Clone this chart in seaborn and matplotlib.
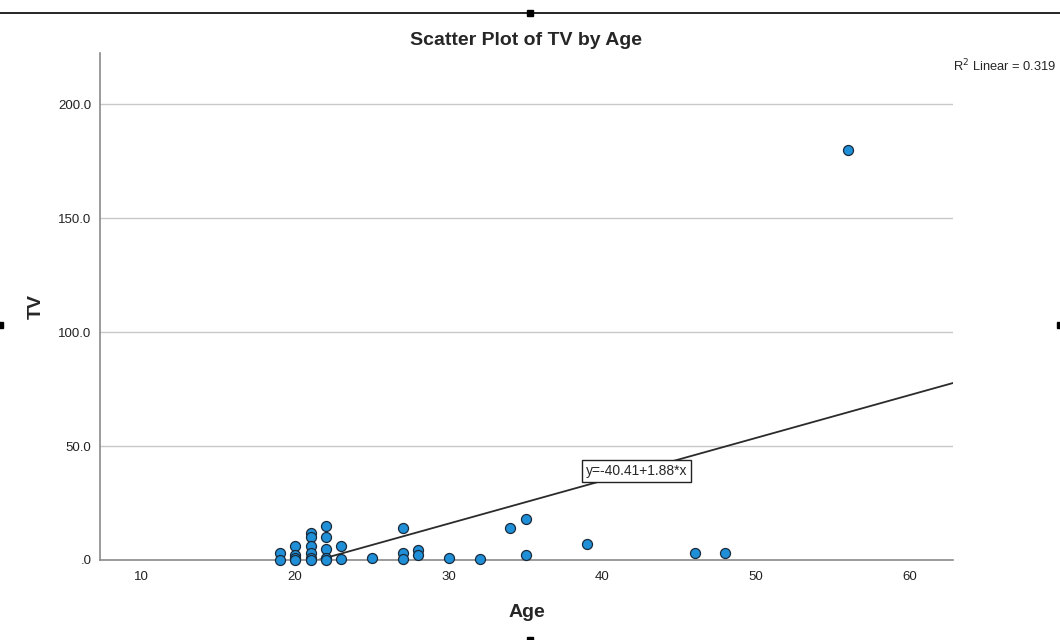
import numpy as np
import pandas as pd
import matplotlib
matplotlib.use('Agg')
import matplotlib.pyplot as plt
from matplotlib.lines import Line2D
import seaborn as sns

# Values
age = [19, 19, 20, 20, 20, 20, 21, 21, 21, 21, 21, 21, 22, 22, 22, 22, 22, 23, 23,
       25, 27, 27, 27, 28, 28, 30, 32, 34, 35, 35, 39, 46, 48, 56]
tv = [3, 0, 6, 2, 1, 0, 12, 10, 6, 3, 1, 0, 15, 10, 5, 1, 0, 6, 0.5,
      1, 14, 3, 0.5, 4.4, 2, 1, 0.5, 14, 18, 2, 7, 3, 3, 180]

fit_intercept = -40.41
fit_slope = 1.88
r_squared = 0.319

x_ticks = [10, 20, 30, 40, 50, 60]
y_ticks = [0, 50, 100, 150, 200]
y_tick_labels = ['.0', '50.0', '100.0', '150.0', '200.0']

df = pd.DataFrame({'Age': age, 'TV': tv})

sns.set_style('white')
plt.rcParams['font.family'] = ['Liberation Sans', 'DejaVu Sans']

fig = plt.figure(figsize=(10.6, 6.4), dpi=100)
ax = fig.add_axes([0.0943, 0.125, 0.8047, 0.792])

x_min, x_max = 7.3, 62.8
y_min, y_max = 0, 222.4

# grid lines
for yv in y_ticks[1:]:
    ax.axhline(yv, color='#c8c8c8', lw=1, zorder=0)

# fitted line, clipped at y = 0
x_start = -fit_intercept / fit_slope
line_df = pd.DataFrame({'Age': [x_start, x_max],
                        'TV': [fit_intercept + fit_slope * x_start,
                               fit_intercept + fit_slope * x_max]})
sns.lineplot(data=line_df, x='Age', y='TV', color='#2b2b2b', lw=1.3, ax=ax, zorder=2)

sns.scatterplot(data=df, x='Age', y='TV', s=52, color='#1f8fd8',
                edgecolor='#1a2a3a', linewidth=0.9, ax=ax, zorder=3, clip_on=False)

ax.text(42.2, 39, 'y=-40.41+1.88*x', ha='center', va='center', fontsize=10,
        bbox=dict(boxstyle='square,pad=0.28', fc='white', ec='#222222', lw=1), zorder=4)

ax.set_xlim(x_min, x_max)
ax.set_ylim(y_min, y_max)
ax.set_xticks(x_ticks)
ax.set_yticks(y_ticks)
ax.set_yticklabels(y_tick_labels)
ax.tick_params(axis='both', length=0, labelsize=9.5, colors='#222222')
ax.tick_params(axis='x', pad=8)
ax.tick_params(axis='y', pad=6)

for side in ['top', 'right']:
    ax.spines[side].set_visible(False)
for side in ['left', 'bottom']:
    ax.spines[side].set_color('#8a8a8a')
    ax.spines[side].set_linewidth(1.2)

ax.set_xlabel('Age', fontsize=14, fontweight='bold', labelpad=15)
ax.set_ylabel('TV', fontsize=14, fontweight='bold', labelpad=10)
ax.set_title('Scatter Plot of TV by Age', fontsize=14, fontweight='bold', pad=6)

fig.text(0.899, 0.897, 'R$^2$ Linear = %.3f' % r_squared, fontsize=9.3, ha='left', va='center')

# outer frame marks
fig.add_artist(Line2D([0, 1], [0.98, 0.98], color='black', lw=1.2))
fig.add_artist(Line2D([0.5], [0.98], marker='s', markersize=4, color='black'))
fig.add_artist(Line2D([0.0], [0.492], marker='s', markersize=4, color='black'))
fig.add_artist(Line2D([1.0], [0.492], marker='s', markersize=4, color='black'))
fig.add_artist(Line2D([0.5], [0.0], marker='s', markersize=4, color='black'))

fig.savefig('out.png', dpi=100)
